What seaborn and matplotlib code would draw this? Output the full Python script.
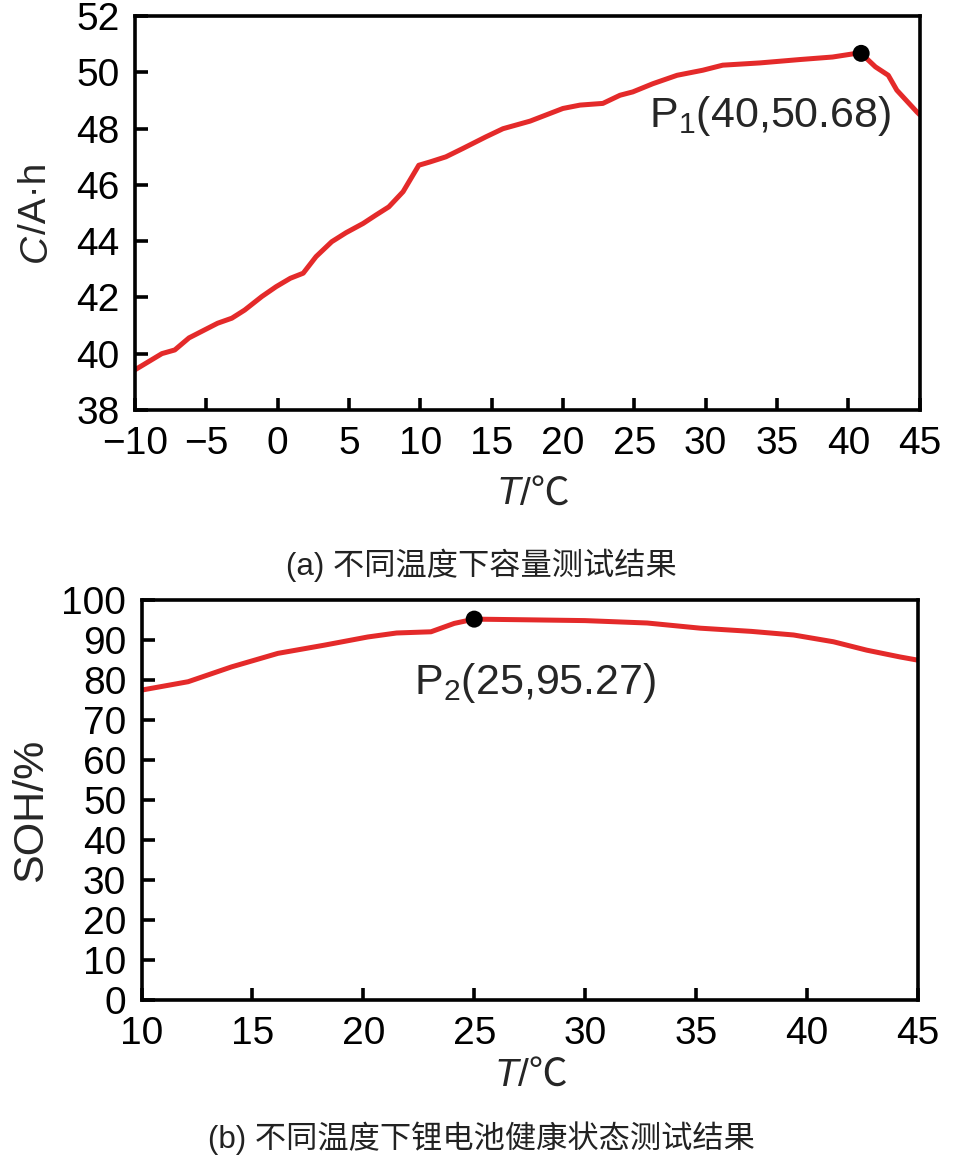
import matplotlib
matplotlib.use("Agg")
import matplotlib.pyplot as plt
import seaborn as sns
import pandas as pd

# capacity vs temperature (a)
temp_cap = [-10, -8.1, -7.2, -6.2, -4.2, -3.2, -2.3, -1.1, -0.1, 0.9, 1.8, 2.7,
            3.8, 4.8, 6.0, 6.9, 7.8, 8.8, 9.9, 10.7, 11.8, 13.0, 14.6, 15.8,
            17.7, 20.0, 21.2, 22.8, 24.0, 24.9, 26.3, 28.0, 29.8, 31.2, 33.8,
            36.6, 38.9, 40.3, 40.9, 41.9, 42.8, 43.4, 44.8, 45.0]
capacity = [39.42, 40.0, 40.13, 40.56, 41.08, 41.26, 41.55, 42.03, 42.38, 42.68,
            42.86, 43.45, 43.98, 44.30, 44.63, 44.93, 45.22, 45.76, 46.70, 46.82,
            47.00, 47.30, 47.71, 48.00, 48.27, 48.72, 48.84, 48.90, 49.19, 49.31,
            49.60, 49.90, 50.08, 50.26, 50.34, 50.46, 50.55, 50.66, 50.68, 50.20,
            49.90, 49.37, 48.60, 48.50]
peak1 = (40.9, 50.68)

# SOH vs temperature (b)
temp_soh = [10, 12.1, 14.05, 16.15, 18.24, 20.2, 21.5, 23.05, 24.1, 25.0, 27.4,
            30.0, 32.8, 35.2, 37.5, 39.4, 41.2, 42.7, 44.2, 45.0]
soh = [77.5, 79.6, 83.3, 86.7, 88.75, 90.8, 91.8, 92.1, 94.2, 95.27, 95.1,
       94.9, 94.3, 93.0, 92.2, 91.3, 89.6, 87.5, 85.8, 85.0]
peak2 = (25, 95.27)

cap_ticks_x = list(range(-10, 50, 5))
cap_ticks_y = list(range(38, 54, 2))
soh_ticks_x = list(range(10, 50, 5))
soh_ticks_y = list(range(0, 110, 10))

sns.set_theme(style="ticks")
plt.rcParams["font.family"] = ["Liberation Sans", "Noto Sans CJK SC", "DejaVu Sans"]
plt.rcParams["mathtext.fontset"] = "custom"
plt.rcParams["mathtext.rm"] = "Liberation Sans"
plt.rcParams["mathtext.it"] = "Liberation Sans:italic"

RED = "#e42a2a"
FS = 28
fam = ["Liberation Sans", "Noto Sans CJK SC", "DejaVu Sans"]

df1 = pd.DataFrame({"T": temp_cap, "C": capacity})
df2 = pd.DataFrame({"T": temp_soh, "SOH": soh})

fig = plt.figure(figsize=(9.63, 11.61), dpi=100)
ax1 = fig.add_axes([0.140, 0.647, 0.815, 0.339])
ax2 = fig.add_axes([0.147, 0.139, 0.806, 0.344])


def style_axis(ax):
    for s in ax.spines.values():
        s.set_linewidth(2.6)
        s.set_color("black")
    ax.tick_params(direction="in", length=9, width=2.6, labelsize=FS,
                   colors="black", top=False, right=False)
    ax.tick_params(axis="x", pad=12)
    ax.tick_params(axis="y", pad=11)
    ax.set_xlabel("")
    ax.set_ylabel("")


# top panel
sns.lineplot(data=df1, x="T", y="C", ax=ax1, color=RED, linewidth=3.6)
sns.scatterplot(x=[peak1[0]], y=[peak1[1]], ax=ax1, color="black", s=150,
                zorder=5, edgecolor="none")
ax1.set_xlim(-10, 45)
ax1.set_ylim(38, 52)
ax1.set_xticks(cap_ticks_x)
ax1.set_yticks(cap_ticks_y)
style_axis(ax1)
ax1.text(26.0, 48.45, r"P$_{\mathrm{1}}$(40,50.68)", fontsize=31, ha="left", va="center")

# bottom panel
sns.lineplot(data=df2, x="T", y="SOH", ax=ax2, color=RED, linewidth=3.6)
sns.scatterplot(x=[peak2[0]], y=[peak2[1]], ax=ax2, color="black", s=150,
                zorder=5, edgecolor="none")
ax2.set_xlim(10, 45)
ax2.set_ylim(0, 100)
ax2.set_xticks(soh_ticks_x)
ax2.set_yticks(soh_ticks_y)
style_axis(ax2)
ax2.text(22.3, 79.3, r"P$_{\mathrm{2}}$(25,95.27)", fontsize=31, ha="left", va="center")


def xlabel_T(ax, x, y):
    t1 = ax.text(x, y, "T", style="italic", fontsize=FS, ha="right", va="center",
                 transform=ax.transAxes, family=fam)
    ax.annotate("/℃", xy=(1, 0.5), xycoords=t1, ha="left", va="center",
                fontsize=FS, family=fam)


xlabel_T(ax1, 0.491, -0.215)
xlabel_T(ax2, 0.485, -0.19)

# y labels
c1 = ax1.text(-0.126, 0.447, "C", style="italic", fontsize=FS, rotation=90,
              ha="center", va="top", transform=ax1.transAxes, family=fam)
ax1.annotate("/A·h", xy=(0.5, 1), xycoords=c1, ha="center", va="bottom",
             rotation=90, fontsize=FS, family=fam)
ax2.text(-0.143, 0.473, "SOH/%", fontsize=31, rotation=90, ha="center", va="center",
         transform=ax2.transAxes, family=fam)

# captions
fig.text(0.5, 1 - 565 / 1161, "(a) 不同温度下容量测试结果", fontsize=22.5,
         ha="center", va="center", family=fam, color="#222222")
fig.text(0.5, 1 - 1138 / 1161, "(b) 不同温度下锂电池健康状态测试结果", fontsize=22.5,
         ha="center", va="center", family=fam, color="#222222")

fig.savefig("out.png", dpi=100)
